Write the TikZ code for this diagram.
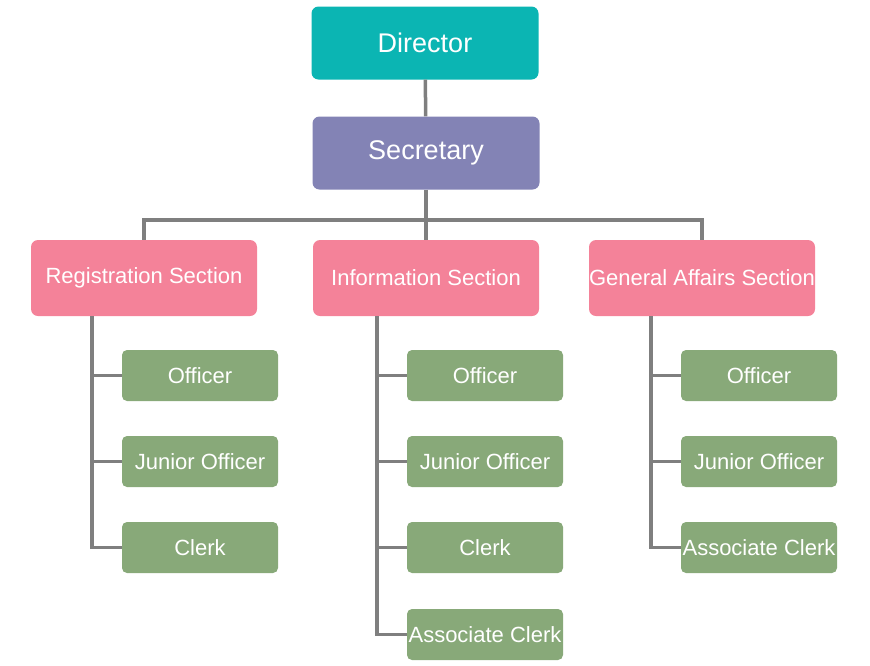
\documentclass[tikz,border=0pt]{standalone}
\usepackage{fontspec}
\setmainfont{Liberation Sans}
\usetikzlibrary{positioning}
\definecolor{dirteal}{HTML}{0BB5B3}
\definecolor{secpurple}{HTML}{8383B5}
\definecolor{sectpink}{HTML}{F48299}
\definecolor{staffgreen}{HTML}{88A979}
\definecolor{linegray}{HTML}{7F7F7F}
\tikzset{
  topbox/.style={
    rectangle, rounded corners=7pt, fill=#1, text=white,
    minimum width=227pt, minimum height=73pt, inner sep=0pt,
    font=\fontsize{27}{32}\selectfont
  },
  sectbox/.style={
    rectangle, rounded corners=7pt, fill=sectpink, text=white,
    minimum width=226pt, minimum height=76pt, inner sep=0pt,
    font=\fontsize{22}{26}\selectfont
  },
  staffbox/.style={
    rectangle, rounded corners=5pt, fill=staffgreen, text=white,
    minimum width=156pt, minimum height=51pt, inner sep=0pt,
    font=\fontsize{22}{26}\selectfont
  },
  link/.style={line width=3.5pt, draw=linegray, line join=miter}
}
\begin{document}
\begin{tikzpicture}[x=1pt, y=-1pt]
        \useasboundingbox (0,0) rectangle (870,665);
        % Top of the chart
        \node[topbox=dirteal] (dir) at (425,43) {Director};
        \node[topbox=secpurple] (sec) at (426,153) {Secretary};
        % Sections
        \node[sectbox] (reg) at (144,278) {Registration Section};
        \node[sectbox] (info) at (426,278) {Information Section};
        \node[sectbox] (gen) at (702,278) {General Affairs Section};
        % Staff, registration
        \node[staffbox] (rofficer) at (200,375.5) {Officer};
        \node[staffbox] (rjunior) at (200,461.5) {Junior Officer};
        \node[staffbox] (rclerk) at (200,547.5) {Clerk};
        % Staff, information
        \node[staffbox] (iofficer) at (485,375.5) {Officer};
        \node[staffbox] (ijunior) at (485,461.5) {Junior Officer};
        \node[staffbox] (iclerk) at (485,547.5) {Clerk};
        \node[staffbox] (iassoc) at (485,634.5) {Associate Clerk};
        % Staff, general affairs
        \node[staffbox] (gofficer) at (759,375.5) {Officer};
        \node[staffbox] (gjunior) at (759,461.5) {Junior Officer};
        \node[staffbox] (gassoc) at (759,547.5) {Associate Clerk};
        % Links
        \coordinate (bus) at (426,220);
        \draw[link] (dir) -- (sec);
        \draw[link] (sec.south) -- (bus);
        \draw[link] (reg.north) |- (bus) -| (gen.north);
        \draw[link] (bus) -- (info.north);
        % Spines
        \coordinate (rspine) at ([xshift=-52pt]reg.south);
        \coordinate (ispine) at ([xshift=-49pt]info.south);
        \coordinate (gspine) at ([xshift=-51pt]gen.south);
        \draw[link] (rspine) |- (rclerk.west);
        \draw[link] (ispine) |- (iassoc.west);
        \draw[link] (gspine) |- (gassoc.west);
        \foreach \n in {rofficer, rjunior}
          \draw[link] (rspine |- \n.west) -- (\n.west);
        \foreach \n in {iofficer, ijunior, iclerk}
          \draw[link] (ispine |- \n.west) -- (\n.west);
        \foreach \n in {gofficer, gjunior}
          \draw[link] (gspine |- \n.west) -- (\n.west);
      \end{tikzpicture}
\end{document}
